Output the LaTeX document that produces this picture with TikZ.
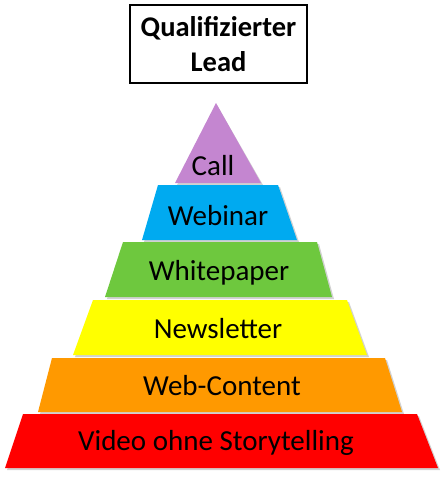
\documentclass[tikz,border=0pt]{standalone}
\usepackage{fontspec}
\setmainfont{Carlito}
\definecolor{cCall}{RGB}{196,134,208}
\definecolor{cWeb}{RGB}{0,170,240}
\definecolor{cWhite}{RGB}{110,200,62}
\definecolor{cNews}{RGB}{255,255,0}
\definecolor{cCont}{RGB}{255,153,0}
\definecolor{cVid}{RGB}{255,0,0}
\begin{document}
\begin{tikzpicture}[x=1pt,y=-1pt,
  lvl/.style={font=\fontsize{29}{35}\selectfont, text=black, inner sep=0pt, anchor=base},
  shade/.style={fill=black, opacity=0.18},
  leadbox/.style={draw=black, line width=1.2pt, fill=white, minimum width=177pt, minimum height=78pt,
    align=center, font=\fontsize{28.5}{35}\selectfont\bfseries, inner sep=0pt}]
\useasboundingbox (0,0) rectangle (442,477);
% shadows
\fill[shade] (217,105) -- (263,185) -- (177,185) -- cycle;
\fill[shade] (160,187) -- (280,187) -- (299,242) -- (144,242) -- cycle;
\fill[shade] (125,244) -- (319,244) -- (334,299) -- (107,299) -- cycle;
\fill[shade] (95,302) -- (349,302) -- (369,357) -- (75,357) -- cycle;
\fill[shade] (54,360) -- (387,360) -- (404,414) -- (40,414) -- cycle;
\fill[shade] (25,416) -- (419,416) -- (440,470) -- (7,470) -- cycle;
% levels
\fill[cCall] (216,103) -- (261,183) -- (175,183) -- cycle;
\fill[cWeb] (158,185) -- (278,185) -- (297,240) -- (142,240) -- cycle;
\fill[cWhite] (123,242) -- (317,242) -- (332,297) -- (105,297) -- cycle;
\fill[cNews] (93,300) -- (347,300) -- (367,355) -- (73,355) -- cycle;
\fill[cCont] (52,358) -- (385,358) -- (402,412) -- (38,412) -- cycle;
\fill[cVid] (23,414) -- (417,414) -- (438,468) -- (5,468) -- cycle;
% labels
\node[lvl] (call) at (213,175) {Call};
\node[lvl] (webinar) at (218,225) {Webinar};
\node[lvl] (whitepaper) at (219,280) {Whitepaper};
\node[lvl] (newsletter) at (218,338) {Newsletter};
\node[lvl] (webcontent) at (222,395) {Web-Content};
\node[lvl] (video) at (216,450) {Video ohne Storytelling};
% top box
\node[leadbox] (lead) at (218.5,44) {Qualifizierter\\Lead};
\end{tikzpicture}
\end{document}
